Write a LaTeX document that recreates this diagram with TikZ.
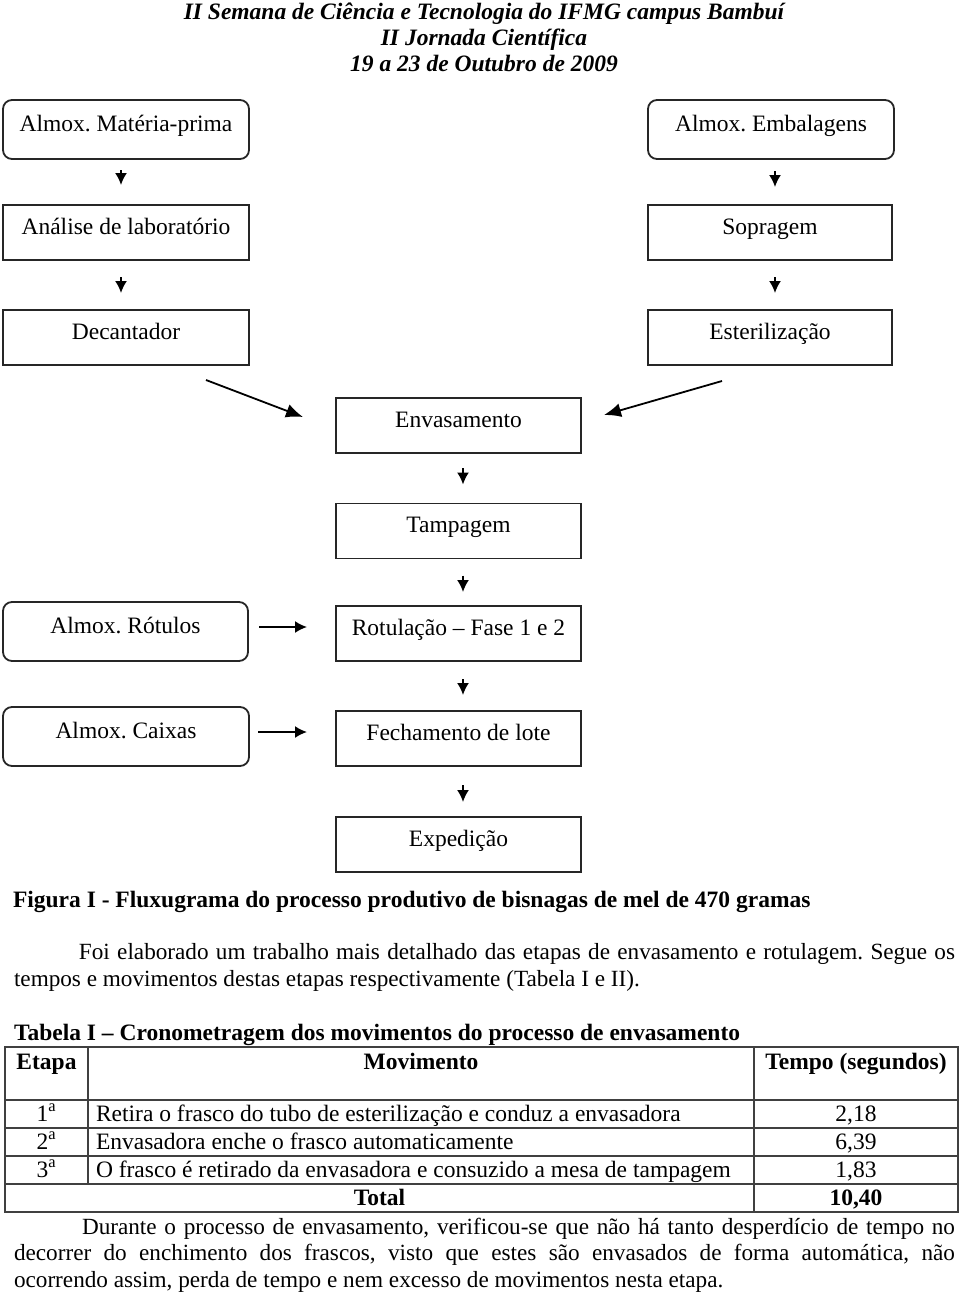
\documentclass[tikz,border=0pt]{standalone}
\usepackage{fontspec}
\setmainfont{Liberation Serif}
\usetikzlibrary{arrows.meta,calc}
\begin{document}
\frenchspacing
\begin{tikzpicture}[x=1pt,y=-1pt,
  every node/.style={font=\fontsize{23.5}{27}\selectfont, inner sep=0pt, outer sep=0pt},
  box/.style={draw=black!85, line width=1.8pt, minimum width=246pt, minimum height=55pt, text height=16pt, text depth=13pt},
  rbox/.style={box, rounded corners=9pt, minimum height=59pt},
  varrow/.style={line width=1.8pt, -{Latex[length=12pt,width=12pt]}},
  harrow/.style={line width=1.8pt, -{Latex[length=12pt,width=12pt]}},
  darrow/.style={line width=1.8pt, -{Latex[length=17pt,width=14pt]}},
  tgrid/.style={draw=black!75, line width=1.2pt},
  hdr/.style={anchor=base, font=\fontsize{23.5}{25}\selectfont\bfseries\itshape},
  btxt/.style={font=\fontsize{23.5}{27}\selectfont\bfseries},
  ctxt/.style={font=\fontsize{23.2}{27}\selectfont}
]
\useasboundingbox (0,0) rectangle (960,1294);

% header
\node[hdr] (h1) at (484,19) {II Semana de Ciência e Tecnologia do IFMG campus Bambuí};
\node[hdr] (h2) at (484,45) {II Jornada Científica};
\node[hdr] (h3) at (484,71) {19 a 23 de Outubro de 2009};

% flowchart boxes
\node[rbox] (mp) at (126,129.5) {Almox. Matéria-prima};
\node[rbox] (emb) at (771,129.5) {Almox. Embalagens};
\node[box] (an) at (126,232.5) {Análise de laboratório};
\node[box, minimum width=244pt] (sop) at (770,232.5) {Sopragem};
\node[box] (dec) at (126,337.5) {Decantador};
\node[box, minimum width=244pt] (est) at (770,337.5) {Esterilização};
\node[box, minimum width=245pt] (env) at (458.5,425.5) {Envasamento};
\node[box, minimum width=245pt] (tam) at (458.5,531) {Tampagem};
\node[rbox, minimum width=245pt] (rot) at (125.5,631.5) {Almox. Rótulos};
\node[box, minimum width=245pt] (rotul) at (458.5,633.5) {Rotulação – Fase 1 e 2};
\node[rbox] (cai) at (126,736.5) {Almox. Caixas};
\node[box, minimum width=245pt] (fech) at (458.5,738.5) {Fechamento de lote};
\node[box, minimum width=245pt] (exp) at (458.5,844.5) {Expedição};

% vertical arrows
\draw[varrow, shorten <=11pt, shorten >=20pt] ($(mp.south)+(-5,0)$) -- ($(an.north)+(-5,0)$);
\draw[varrow, shorten <=17pt, shorten >=17pt] ($(an.south)+(-5,0)$) -- ($(dec.north)+(-5,0)$);
\draw[varrow, shorten <=12pt, shorten >=18pt] ($(emb.south)+(4,0)$) -- ($(sop.north)+(5,0)$);
\draw[varrow, shorten <=17pt, shorten >=17pt] ($(sop.south)+(5,0)$) -- ($(est.north)+(5,0)$);
\draw[varrow, shorten <=15pt, shorten >=19pt] ($(env.south)+(4.5,0)$) -- ($(tam.north)+(4.5,0)$);
\draw[varrow, shorten <=17pt, shorten >=14pt] ($(tam.south)+(4.5,0)$) -- ($(rotul.north)+(4.5,0)$);
\draw[varrow, shorten <=18pt, shorten >=16pt] ($(rotul.south)+(4.5,0)$) -- ($(fech.north)+(4.5,0)$);
\draw[varrow, shorten <=19pt, shorten >=15pt] ($(fech.south)+(4.5,0)$) -- ($(exp.north)+(4.5,0)$);

% diagonal arrows
\draw[darrow] ($(dec.south east)+(-43,15)$) -- ($(env.north west)+(-33,19)$);
\draw[darrow] ($(est.south west)+(74,16)$) -- ($(env.north east)+(23,17)$);

% horizontal arrows
\draw[harrow, shorten <=11pt, shorten >=29pt] ($(rot.east)+(0,-4.5)$) -- ($(rotul.west)+(0,-6.5)$);
\draw[harrow, shorten <=9pt, shorten >=29pt] ($(cai.east)+(0,-4.5)$) -- ($(fech.west)+(0,-6.5)$);

% caption
\node[anchor=base west, btxt] (cap) at (13,907) {Figura I - Fluxugrama do processo produtivo de bisnagas de mel de 470 gramas};

% paragraph 1
\node[anchor=north west, ctxt] (p1) at (14,943)
  {\parbox[t]{941pt}{\frenchspacing\spaceskip=0.25em plus 0.6em minus 0.1em
   \noindent\hbox to \hsize{\hspace*{65pt}Foi elaborado um trabalho mais detalhado das etapas de envasamento e rotulagem. Segue os}\par
   \noindent tempos e movimentos destas etapas respectivamente (Tabela I e II).\par}};

% table title
\node[anchor=base west, btxt] (tt) at (14,1040) {Tabela I – Cronometragem dos movimentos do processo de envasamento};

% table grid
\draw[tgrid] (5,1047) rectangle (958,1212);
\draw[tgrid] (5,1100) -- (958,1100);
\draw[tgrid] (5,1128) -- (958,1128);
\draw[tgrid] (5,1156) -- (958,1156);
\draw[tgrid] (5,1184) -- (958,1184);
\draw[tgrid] (88,1047) -- (88,1184);
\draw[tgrid] (754,1047) -- (754,1212);

% table header
\node[anchor=base, btxt] (th1) at (46.5,1069) {Etapa};
\node[anchor=base, btxt] (th2) at (421,1069) {Movimento};
\node[anchor=base, btxt] (th3) at (856,1069) {Tempo (segundos)};

% table rows
\node[anchor=base] (r1a) at (46.5,1121) {1\textsuperscript{a}};
\node[anchor=base west] (r1b) at (96,1121) {Retira o frasco do tubo de esterilização e conduz a envasadora};
\node[anchor=base] (r1c) at (856,1121) {2,18};
\node[anchor=base] (r2a) at (46.5,1149) {2\textsuperscript{a}};
\node[anchor=base west] (r2b) at (96,1149) {Envasadora enche o frasco automaticamente};
\node[anchor=base] (r2c) at (856,1149) {6,39};
\node[anchor=base] (r3a) at (46.5,1177) {3\textsuperscript{a}};
\node[anchor=base west] (r3b) at (96,1177) {O frasco é retirado da envasadora e consuzido a mesa de tampagem};
\node[anchor=base] (r3c) at (856,1177) {1,83};
\node[anchor=base, btxt] (tot) at (379.5,1205) {Total};
\node[anchor=base, btxt] (totv) at (856,1205) {10,40};

% paragraph 2
\node[anchor=north west, ctxt, font=\fontsize{23.2}{26.5}\selectfont] (p2) at (14,1218)
  {\parbox[t]{941pt}{\frenchspacing\spaceskip=0.25em plus 0.6em minus 0.1em
   \noindent\hbox to \hsize{\hspace*{68pt}Durante o processo de envasamento, verificou-se que não há tanto desperdício de tempo no}\par
   \noindent\hbox to \hsize{decorrer do enchimento dos frascos, visto que estes são envasados de forma automática, não}\par
   \noindent ocorrendo assim, perda de tempo e nem excesso de movimentos nesta etapa.\par}};
\end{tikzpicture}
\end{document}
